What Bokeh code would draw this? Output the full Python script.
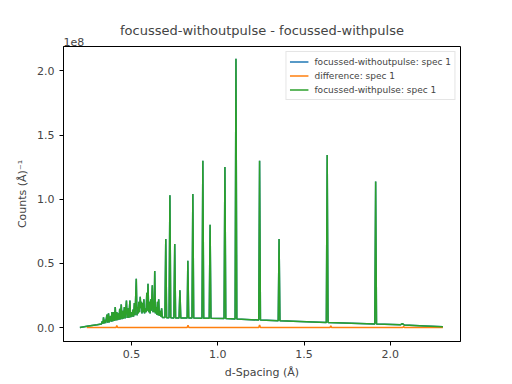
from bokeh.plotting import figure
from bokeh.models import Range1d, Legend, LegendItem, Title, FixedTicker
from bokeh.embed import file_html
from bokeh.resources import INLINE

# focussed-withpulse spectrum: (d-spacing in Angstrom, counts in units of 1e8)
with_pulse = [
    (0.200, 0.000), (0.250, 0.012), (0.300, 0.022), (0.325, 0.028), (0.330, 0.050),
    (0.334, 0.030), (0.337, 0.080), (0.341, 0.032), (0.345, 0.060), (0.349, 0.034),
    (0.357, 0.100), (0.361, 0.038), (0.366, 0.110), (0.370, 0.040), (0.378, 0.090),
    (0.382, 0.045), (0.386, 0.120), (0.390, 0.048), (0.396, 0.120), (0.400, 0.052),
    (0.405, 0.160), (0.409, 0.055), (0.414, 0.120), (0.418, 0.058), (0.424, 0.110),
    (0.427, 0.060), (0.431, 0.145), (0.434, 0.062), (0.440, 0.180), (0.444, 0.065),
    (0.449, 0.130), (0.452, 0.068), (0.458, 0.160), (0.462, 0.070), (0.470, 0.210),
    (0.474, 0.075), (0.480, 0.150), (0.484, 0.075), (0.490, 0.210), (0.494, 0.080),
    (0.500, 0.120), (0.503, 0.085), (0.508, 0.140), (0.511, 0.085), (0.516, 0.190),
    (0.520, 0.095), (0.527, 0.380), (0.531, 0.095), (0.535, 0.160), (0.538, 0.110),
    (0.542, 0.200), (0.546, 0.120), (0.550, 0.240), (0.553, 0.150), (0.557, 0.200),
    (0.560, 0.110), (0.564, 0.190), (0.567, 0.120), (0.571, 0.220), (0.575, 0.110),
    (0.580, 0.150), (0.584, 0.120), (0.588, 0.270), (0.591, 0.130), (0.595, 0.340),
    (0.599, 0.120), (0.604, 0.200), (0.607, 0.110), (0.611, 0.220), (0.614, 0.130),
    (0.620, 0.330), (0.624, 0.120), (0.629, 0.200), (0.631, 0.120), (0.634, 0.440),
    (0.638, 0.110), (0.643, 0.160), (0.646, 0.100), (0.650, 0.200), (0.653, 0.095),
    (0.657, 0.220), (0.661, 0.090), (0.666, 0.130), (0.670, 0.085), (0.674, 0.150),
    (0.678, 0.078), (0.693, 0.078), (0.698, 0.690), (0.703, 0.077), (0.717, 0.076),
    (0.722, 1.030), (0.727, 0.076), (0.745, 0.075), (0.750, 0.650), (0.755, 0.075),
    (0.775, 0.075), (0.780, 0.290), (0.785, 0.075), (0.822, 0.075), (0.826, 0.520),
    (0.831, 0.075), (0.850, 0.075), (0.855, 1.040), (0.860, 0.075), (0.908, 0.072),
    (0.913, 1.300), (0.918, 0.072), (0.950, 0.072), (0.955, 0.800), (0.960, 0.072),
    (1.036, 0.070), (1.041, 1.250), (1.046, 0.070), (1.100, 0.066), (1.105, 2.095),
    (1.110, 0.066), (1.237, 0.058), (1.242, 1.300), (1.247, 0.058), (1.350, 0.052),
    (1.355, 0.690), (1.360, 0.052), (1.629, 0.040), (1.634, 1.344), (1.639, 0.040),
    (1.910, 0.028), (1.915, 1.137), (1.920, 0.028), (2.060, 0.022), (2.070, 0.030),
    (2.080, 0.020), (2.200, 0.012), (2.305, 0.005),
]
with_d = [d for d, _ in with_pulse]
with_counts = [c for _, c in with_pulse]

# focussed-withoutpulse is visually identical to withpulse (hidden underneath)
without_d = with_d
without_counts = with_counts

# difference spectrum
diff_d = [0.240, 0.410, 0.414, 0.419, 0.822, 0.827, 0.832, 1.237, 1.242, 1.247,
          1.650, 1.655, 1.660, 2.072, 2.077, 2.082, 2.305]
diff_counts = [0.0, 0.0, 0.015, 0.0, 0.0, 0.018, 0.0, 0.0, 0.020, 0.0,
               0.0, 0.012, 0.0, 0.0, 0.008, 0.0, 0.0]

x_ticks = [0.5, 1.0, 1.5, 2.0]
y_ticks = [0.0, 0.5, 1.0, 1.5, 2.0]

FONT = "DejaVu Sans"
W, H = 504, 382
BL, BR, BT, BB = 63, 44, 46, 41

p = figure(width=W, height=H, output_backend="svg", toolbar_location=None,
           x_range=Range1d(0.105, 2.407), y_range=Range1d(-0.109, 2.19),
           min_border_left=BL, min_border_right=BR, min_border_top=BT,
           min_border_bottom=BB,
           title="focussed-withoutpulse - focussed-withpulse")
p.background_fill_color = "white"
p.border_fill_color = "white"
p.outline_line_color = "black"
p.outline_line_width = 1
p.grid.visible = False

p.title.align = "center"
p.title.text_font = FONT
p.title.text_font_size = "13px"
p.title.text_font_style = "normal"
p.title.standoff = -6

# offset-text "1e8" just above the top-left corner of the frame
p.add_layout(Title(text="1e8", align="left", text_font=FONT,
                   text_font_size="11px", text_font_style="normal",
                   standoff=2), "above")

r_blue = p.line(without_d, without_counts, line_color="#1f77b4", line_width=1.5)
r_orange = p.line(diff_d, diff_counts, line_color="#ff7f0e", line_width=1.5)
r_green = p.line(with_d, with_counts, line_color="#2ca02c", line_width=1.5)

for ax in (p.xaxis[0], p.yaxis[0]):
    ax.major_tick_out = 4
    ax.major_tick_in = 0
    ax.minor_tick_line_color = None
    ax.axis_line_color = "black"
    ax.major_label_text_font = FONT
    ax.major_label_text_font_size = "11px"
    ax.axis_label_text_font = FONT
    ax.axis_label_text_font_size = "11px"
    ax.axis_label_text_font_style = "normal"

p.xaxis.major_label_standoff = 4
p.yaxis.major_label_standoff = 5
p.xaxis.ticker = FixedTicker(ticks=x_ticks)
p.yaxis.ticker = FixedTicker(ticks=y_ticks)
p.xaxis.major_label_overrides = {t: f"{t:.1f}" for t in x_ticks}
p.yaxis.major_label_overrides = {t: f"{t:.1f}" for t in y_ticks}
p.xaxis.axis_label = "d-Spacing (Å)"
p.yaxis.axis_label = "Counts (Å)⁻¹"
p.xaxis.axis_label_standoff = 5
p.yaxis.axis_label_standoff = 5

legend = Legend(items=[
    LegendItem(label="focussed-withoutpulse: spec 1", renderers=[r_blue]),
    LegendItem(label="difference: spec 1", renderers=[r_orange]),
    LegendItem(label="focussed-withpulse: spec 1", renderers=[r_green]),
], location="top_right")
legend.label_text_font = FONT
legend.label_text_font_size = "9px"
legend.glyph_width = 19
legend.glyph_height = 13
legend.label_height = 13
legend.spacing = 1
legend.padding = 3
legend.margin = 5
legend.label_standoff = 6
legend.border_line_color = "#cccccc"
legend.background_fill_alpha = 0.8
p.add_layout(legend)

open("out.html", "w").write(file_html(p, INLINE))
